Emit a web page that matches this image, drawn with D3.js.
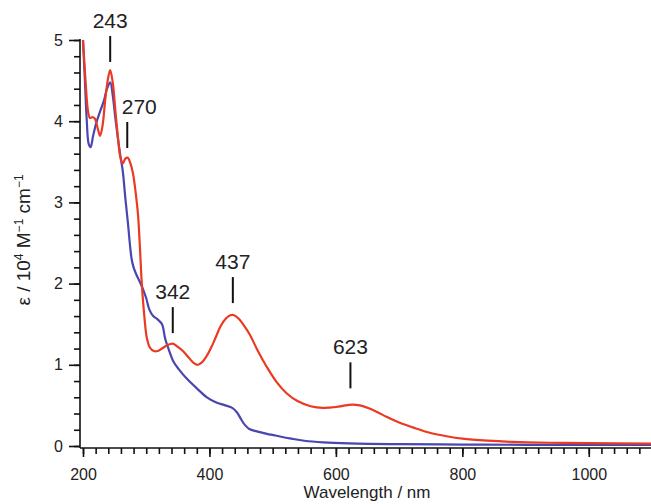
<!DOCTYPE html>
<html>
<head>
<meta charset="utf-8">
<script src="https://cdn.jsdelivr.net/npm/d3@7"></script>
<style>
  body { margin: 0; background: #fff; }
  svg { display: block; font-family: "Liberation Sans", Arial, sans-serif; }
  .axis path, .axis line { stroke: #111; stroke-width: 1.6; }
  .axis text { font-size: 16px; fill: #222; }
</style>
</head>
<body>
<div class="chart"></div>
<script>
// spectrum: [wavelength nm, eps / 1e4 M-1 cm-1]
var red_data = [[200,5.0],[204,4.5],[208,4.12],[211,4.04],[215,4.05],[219,4.03],[223,3.92],[227,3.82],[231,3.95],[235,4.25],[239,4.5],[243,4.63],[247,4.48],[251,4.15],[255,3.82],[259,3.56],[263,3.48],[267,3.54],[271,3.55],[275,3.48],[279,3.36],[283,3.14],[287,2.85],[290,2.45],[293,2.0],[297,1.6],[301,1.33],[306,1.21],[312,1.17],[318,1.17],[325,1.2],[333,1.24],[342,1.26],[350,1.22],[358,1.17],[366,1.1],[374,1.03],[381,1.0],[388,1.03],[395,1.1],[402,1.2],[410,1.34],[418,1.48],[426,1.57],[433,1.61],[439,1.61],[446,1.57],[455,1.48],[464,1.37],[476,1.18],[491,0.97],[506,0.79],[522,0.65],[540,0.55],[560,0.49],[580,0.47],[600,0.48],[615,0.5],[625,0.51],[638,0.5],[650,0.47],[665,0.42],[680,0.36],[700,0.29],[725,0.22],[750,0.16],[775,0.12],[800,0.09],[840,0.065],[880,0.05],[940,0.04],[1000,0.035],[1100,0.03]];

var blue_data = [[200,5.0],[203,4.5],[206,4.0],[209,3.72],[212,3.68],[216,3.82],[221,3.98],[227,4.12],[233,4.25],[238,4.4],[243,4.48],[247,4.32],[251,4.05],[255,3.8],[259,3.58],[263,3.38],[267,3.05],[271,2.75],[274,2.5],[277,2.3],[280,2.2],[285,2.1],[290,2.02],[295,1.93],[300,1.82],[305,1.68],[311,1.6],[318,1.56],[325,1.5],[330,1.32],[336,1.18],[343,1.04],[352,0.94],[364,0.83],[380,0.71],[396,0.6],[410,0.54],[425,0.5],[436,0.47],[444,0.41],[450,0.33],[456,0.26],[463,0.21],[475,0.18],[491,0.15],[510,0.12],[530,0.09],[550,0.065],[580,0.045],[620,0.032],[700,0.022],[800,0.018],[900,0.015],[1100,0.012]];

// peak labels: wavelength, bottom of marker line (data units), text shift
var peak_nm    = [243, 270, 342, 437, 623];
var peak_ybot  = [4.73, 3.67, 1.39, 1.76, 0.71];
var peak_shift = [0, 12, 0, 0, 0];

var x_major = [200, 400, 600, 800, 1000];
var y_major = [0, 1, 2, 3, 4, 5];

var fullWidth = 651,
    fullHeight = 504;

var svg = d3.select(".chart")
    .append("svg")
    .attr("width", fullWidth)
    .attr("height", fullHeight);

var x = d3.scaleLinear().domain([200, 1100]).range([83, 652]);
var y = d3.scaleLinear().domain([0, 5]).range([446, 40]);

var axis_x0 = 80,   // where the y axis sits
    axis_y0 = 448;  // where the x axis sits

// y axis: minor then major ticks
var gy = svg.append("g")
    .attr("class", "axis")
    .attr("transform", "translate(" + axis_x0 + ",0)");
gy.append("g")
    .call(d3.axisLeft(y).tickValues(d3.range(0, 5.01, 0.2)).tickSize(6).tickFormat(""));
gy.append("g")
    .call(d3.axisLeft(y).tickValues(y_major).tickSize(11).tickPadding(6).tickFormat(d3.format("d")));
gy.selectAll(".domain").remove();
gy.append("line")
    .attr("x1", 0).attr("x2", 0)
    .attr("y1", y(5) - 1).attr("y2", axis_y0);

// x axis
var gx = svg.append("g")
    .attr("class", "axis")
    .attr("transform", "translate(0," + axis_y0 + ")");
gx.append("g")
    .call(d3.axisBottom(x).tickValues(d3.range(200, 1101, 20)).tickSize(6).tickFormat(""));
gx.append("g")
    .call(d3.axisBottom(x).tickValues(x_major).tickSize(9).tickPadding(12).tickFormat(d3.format("d")));
gx.selectAll(".domain").remove();
gx.append("line")
    .attr("x1", axis_x0).attr("x2", fullWidth)
    .attr("y1", 0).attr("y2", 0);

// axis titles
svg.append("text")
    .attr("x", 367)
    .attr("y", 498)
    .attr("text-anchor", "middle")
    .style("font-size", "17px")
    .style("fill", "#222")
    .text("Wavelength / nm");

var ylab = svg.append("text")
    .attr("transform", "translate(30,240) rotate(-90)")
    .attr("text-anchor", "middle")
    .style("font-size", "19px")
    .style("fill", "#222");
ylab.append("tspan").text("\u03b5 / 10");
ylab.append("tspan").attr("dy", -7).style("font-size", "12px").text("4");
ylab.append("tspan").attr("dy", 7).text(" M");
ylab.append("tspan").attr("dy", -7).style("font-size", "12px").text("\u22121");
ylab.append("tspan").attr("dy", 7).text(" cm");
ylab.append("tspan").attr("dy", -7).style("font-size", "12px").text("\u22121");

// spectra
var line = d3.line()
    .x(d => x(d[0]))
    .y(d => y(d[1]))
    .curve(d3.curveCatmullRom);

svg.append("path")
    .datum(blue_data)
    .attr("fill", "none")
    .attr("stroke", "#4a46b0")
    .attr("stroke-width", 2.2)
    .attr("d", line);

svg.append("path")
    .datum(red_data)
    .attr("fill", "none")
    .attr("stroke", "#ea3a22")
    .attr("stroke-width", 2.2)
    .attr("d", line);

// peak markers
var peaks = svg.selectAll(".peak")
    .data(peak_nm)
    .enter()
    .append("g")
    .attr("class", "peak");

peaks.append("line")
    .attr("x1", d => x(d)).attr("x2", d => x(d))
    .attr("y1", (d, i) => y(peak_ybot[i]) - 26)
    .attr("y2", (d, i) => y(peak_ybot[i]))
    .attr("stroke", "#111")
    .attr("stroke-width", 2);

peaks.append("text")
    .attr("x", (d, i) => x(d) + peak_shift[i])
    .attr("y", (d, i) => y(peak_ybot[i]) - 34)
    .attr("text-anchor", "middle")
    .style("font-size", "21px")
    .style("fill", "#222")
    .text(d => d);
</script>
</body>
</html>
